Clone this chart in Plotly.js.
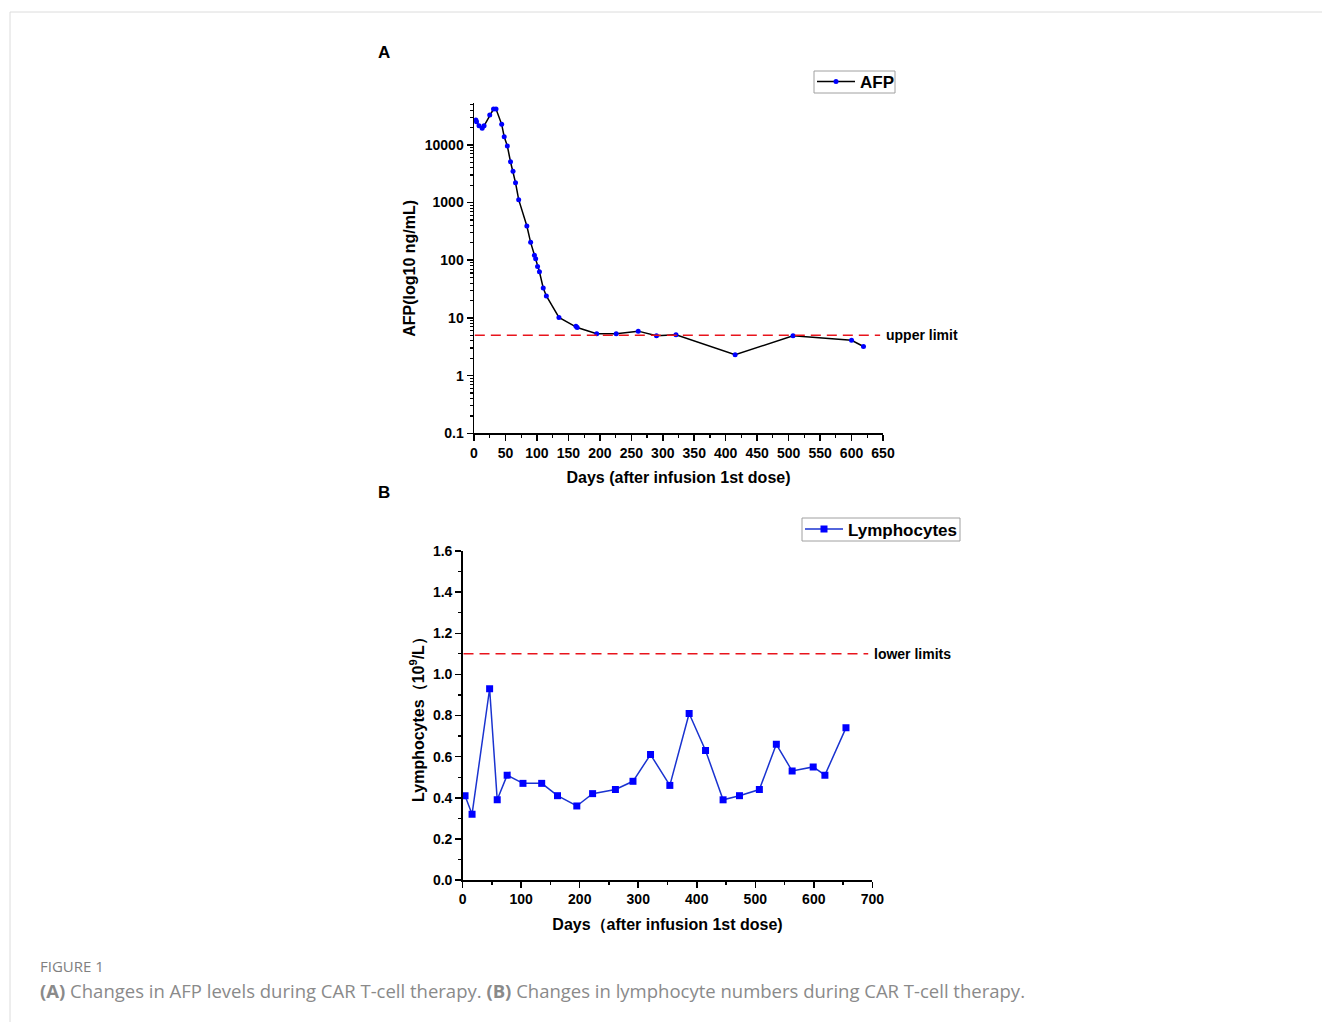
<!DOCTYPE html>
<html>
<head>
<meta charset="utf-8">
<script src="https://cdn.plot.ly/plotly-3.0.1.min.js"></script>
<style>
  html, body { margin: 0; padding: 0; background: #ffffff; }
  #chart { width: 1322px; height: 1022px; }
</style>
</head>
<body>
<div id="chart"></div>
<script>
// ---- Data ----
const afpDays = [3, 4, 8, 13, 16, 25, 31, 35, 44, 48, 53, 58, 62, 66, 71, 84, 90, 96, 98, 101, 104, 110, 115, 135, 162, 164, 195, 226, 261, 290, 321, 415, 507, 600, 619];
const afpValues = [26900, 25100, 21400, 19300, 21400, 32800, 41700, 41700, 22650, 13800, 9530, 5090, 3470, 2200, 1120, 392, 204, 122, 106, 78, 63, 33, 24, 10.2, 7.2, 6.8, 5.3, 5.3, 5.9, 4.9, 5.1, 2.3, 4.9, 4.1, 3.2];
const afpUpperLimit = 5;

const lymphDays = [4, 16, 46, 59, 76, 103, 135, 162, 195, 222, 261, 291, 321, 354, 387, 415, 445, 473, 507, 536, 563, 599, 619, 655];
const lymphValues = [0.41, 0.32, 0.93, 0.39, 0.51, 0.47, 0.47, 0.41, 0.36, 0.42, 0.44, 0.48, 0.61, 0.46, 0.81, 0.63, 0.39, 0.41, 0.44, 0.66, 0.53, 0.55, 0.51, 0.74];
const lymphLowerLimit = 1.1;

const afpTickVals = [0.1, 1, 10, 100, 1000, 10000];
const afpTickText = ['0.1', '1', '10', '100', '1000', '10000'];
const afpMinorTicks = [0.2,0.3,0.4,0.5,0.6,0.7,0.8,0.9, 2,3,4,5,6,7,8,9, 20,30,40,50,60,70,80,90, 200,300,400,500,600,700,800,900, 2000,3000,4000,5000,6000,7000,8000,9000, 20000,30000,40000,50000];

// ---- Layout helpers (pixel -> paper fraction) ----
const W = 1322, H = 1022;
const px = v => v / W;
const py = v => 1 - v / H;

const FONT = '"Liberation Sans", Arial, sans-serif';
const tickFont = { family: FONT, size: 14, color: '#000', weight: 'bold' };
const titleFont = { family: FONT, size: 16, color: '#000', weight: 'bold' };
const legendFont = { family: FONT, size: 17, color: '#000', weight: 'bold' };

const traces = [
  {
    type: 'scatter', mode: 'lines+markers', name: 'AFP',
    x: afpDays, y: afpValues, xaxis: 'x', yaxis: 'y', legend: 'legend',
    line: { color: '#000000', width: 1.5 },
    marker: { color: '#0000ff', size: 5, symbol: 'circle' }
  },
  {
    type: 'scatter', mode: 'lines+markers', name: 'Lymphocytes',
    x: lymphDays, y: lymphValues, xaxis: 'x2', yaxis: 'y2', legend: 'legend2',
    line: { color: '#1a33d0', width: 1.5 },
    marker: { color: '#0000ff', size: 7, symbol: 'square' }
  }
];

const axisCommon = {
  showline: true, linecolor: '#000', linewidth: 1.5,
  ticks: 'outside', ticklen: 6, tickwidth: 1.5, tickcolor: '#000',
  showgrid: false, zeroline: false, mirror: false,
  tickfont: tickFont
};

const minorCommon = { ticks: 'outside', ticklen: 3, tickwidth: 1.2, tickcolor: '#000' };

const layout = {
  width: W, height: H,
  margin: { l: 0, r: 0, t: 0, b: 0 },
  paper_bgcolor: '#ffffff', plot_bgcolor: '#ffffff',
  showlegend: true,
  xaxis: Object.assign({}, axisCommon, {
    domain: [px(474), px(883)], anchor: 'y',
    range: [0, 650], tick0: 0, dtick: 50,
    minor: Object.assign({}, minorCommon, { dtick: 25, tick0: 0 }),
    title: { text: 'Days (after infusion 1st dose)', font: titleFont, standoff: 12 }
  }),
  yaxis: Object.assign({}, axisCommon, {
    domain: [py(433.3), py(103.3)], anchor: 'x',
    type: 'log', range: [-1, 4.72],
    tickmode: 'array', tickvals: afpTickVals, ticktext: afpTickText,
    minor: Object.assign({}, minorCommon, { tickmode: 'array', tickvals: afpMinorTicks }),
    title: { text: 'AFP(log10 ng/mL)', font: titleFont, standoff: 5 }
  }),
  xaxis2: Object.assign({}, axisCommon, {
    domain: [px(462.7), px(872.3)], anchor: 'y2',
    range: [0, 700], tick0: 0, dtick: 100,
    minor: Object.assign({}, minorCommon, { dtick: 50, tick0: 0 }),
    title: { text: 'Days（after infusion 1st dose)', font: titleFont, standoff: 12 }
  }),
  yaxis2: Object.assign({}, axisCommon, {
    domain: [py(880), py(551)], anchor: 'x2',
    range: [0, 1.6], tick0: 0, dtick: 0.2, tickformat: '.1f',
    minor: Object.assign({}, minorCommon, { dtick: 0.1, tick0: 0 }),
    title: { text: 'Lymphocytes（10<sup>9</sup>/L）', font: titleFont, standoff: 4 }
  }),
  legend: {
    x: px(812), y: py(82), xanchor: 'left', yanchor: 'middle',
    bgcolor: 'rgba(0,0,0,0)', borderwidth: 0,
    font: legendFont, itemwidth: 38, tracegroupgap: 0
  },
  legend2: {
    x: px(800), y: py(529.5), xanchor: 'left', yanchor: 'middle',
    bgcolor: 'rgba(0,0,0,0)', borderwidth: 0,
    font: legendFont, itemwidth: 38, tracegroupgap: 0
  },
  shapes: [
    // limit lines
    { type: 'line', xref: 'x domain', yref: 'y', x0: 0.002, x1: 0.993,
      y0: afpUpperLimit, y1: afpUpperLimit,
      line: { color: '#e8141c', width: 1.5, dash: '10px,6px' } },
    { type: 'line', xref: 'x2 domain', yref: 'y2', x0: 0.002, x1: 0.99,
      y0: lymphLowerLimit, y1: lymphLowerLimit,
      line: { color: '#e8141c', width: 1.5, dash: '10px,6px' } },
    // legend frames
    { type: 'rect', xref: 'paper', yref: 'paper', x0: px(814), x1: px(895), y0: py(93), y1: py(71),
      line: { color: '#a0a0a0', width: 1 }, fillcolor: 'rgba(0,0,0,0)' },
    { type: 'rect', xref: 'paper', yref: 'paper', x0: px(802), x1: px(960), y0: py(541), y1: py(518),
      line: { color: '#a0a0a0', width: 1 }, fillcolor: 'rgba(0,0,0,0)' },
    // card border
    { type: 'line', xref: 'paper', yref: 'paper', x0: px(10), x1: 1, y0: py(12), y1: py(12),
      line: { color: '#dcdcdc', width: 1 } },
    { type: 'line', xref: 'paper', yref: 'paper', x0: px(10), x1: px(10), y0: py(12), y1: 0,
      line: { color: '#dcdcdc', width: 1 } }
  ],
  annotations: [
    { xref: 'paper', yref: 'y', x: px(884), y: Math.log10(afpUpperLimit), xanchor: 'left', yanchor: 'middle',
      text: 'upper limit', showarrow: false, font: { family: FONT, size: 14, color: '#000', weight: 'bold' } },
    { xref: 'paper', yref: 'y2', x: px(872), y: lymphLowerLimit, xanchor: 'left', yanchor: 'middle',
      text: 'lower limits', showarrow: false, font: { family: FONT, size: 14, color: '#000', weight: 'bold' } },
    { xref: 'paper', yref: 'paper', x: px(384), y: py(53), xanchor: 'center', yanchor: 'middle',
      text: '<b>A</b>', showarrow: false, font: { family: FONT, size: 17, color: '#000' } },
    { xref: 'paper', yref: 'paper', x: px(384), y: py(492), xanchor: 'center', yanchor: 'middle',
      text: '<b>B</b>', showarrow: false, font: { family: FONT, size: 17, color: '#000' } },
    { xref: 'paper', yref: 'paper', x: px(38), y: py(966), xanchor: 'left', yanchor: 'middle',
      text: 'FIGURE 1', showarrow: false, font: { family: '"Open Sans", sans-serif', size: 15, color: '#808080' } },
    { xref: 'paper', yref: 'paper', x: px(38), y: py(990), xanchor: 'left', yanchor: 'middle',
      text: '<b>(A)</b> Changes in AFP levels during CAR T-cell therapy. <b>(B)</b> Changes in lymphocyte numbers during CAR T-cell therapy.',
      showarrow: false, font: { family: '"Open Sans", sans-serif', size: 18.5, color: '#8a8a8a' } }
  ]
};

Plotly.newPlot('chart', traces, layout, { displayModeBar: false, staticPlot: true });
</script>
</body>
</html>
